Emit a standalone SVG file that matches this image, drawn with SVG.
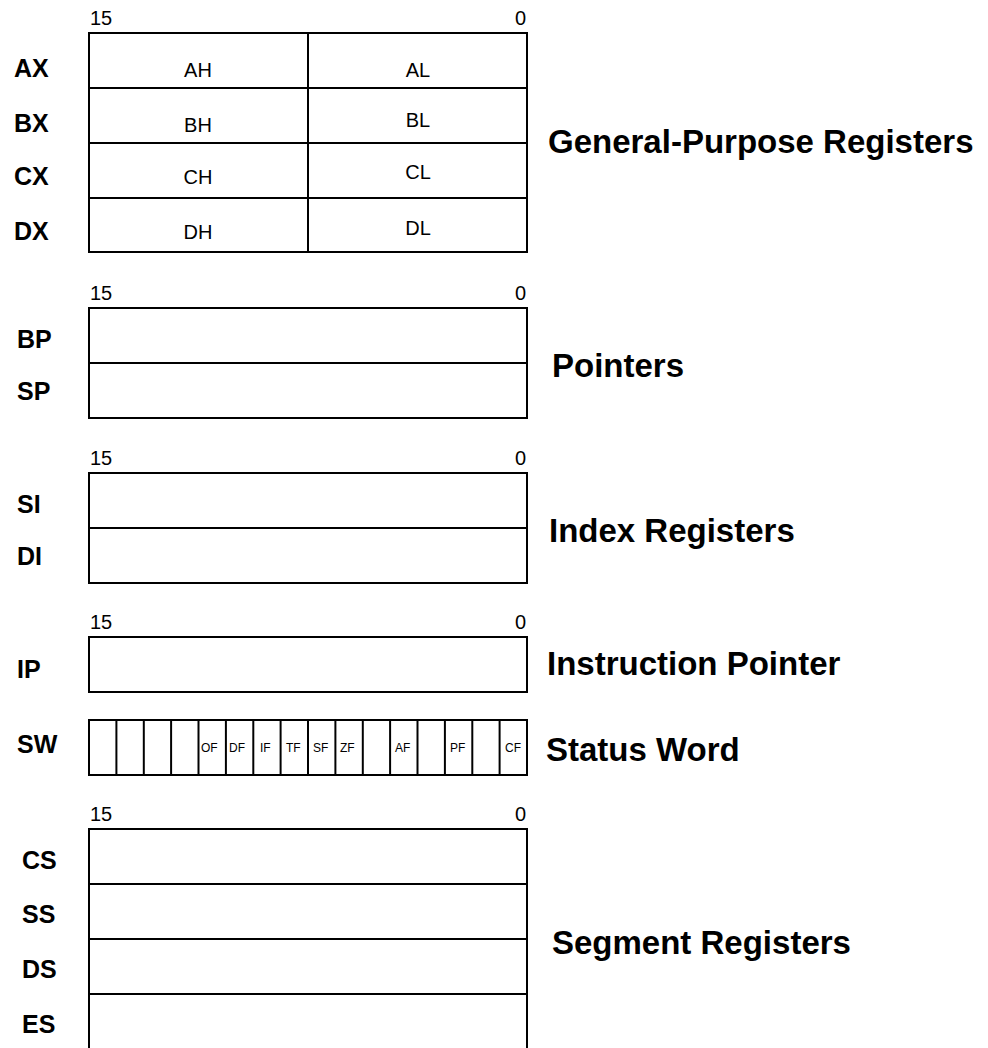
<svg xmlns="http://www.w3.org/2000/svg" width="988" height="1048" viewBox="0 0 988 1048">
<style>
.box{fill:#fff;stroke:#000;stroke-width:2}
.ln{stroke:#000;stroke-width:2;fill:none}
.reg{font-family:"Liberation Sans",Arial,sans-serif;font-weight:bold;font-size:25px;fill:#000}
.title{font-family:"Liberation Sans",Arial,sans-serif;font-weight:bold;font-size:33px;fill:#000}
.bit{font-family:"Liberation Sans",Arial,sans-serif;font-size:20px;fill:#000}
.cell{font-family:"Liberation Sans",Arial,sans-serif;font-size:20px;fill:#000;text-anchor:middle}
.flag{font-family:"Liberation Sans",Arial,sans-serif;font-size:12px;fill:#000}
</style>
<rect width="988" height="1048" fill="#fff"/>
<g id="general-purpose">
<text class="bit" x="90" y="25">15</text>
<text class="bit" x="526" y="25" text-anchor="end">0</text>
<rect class="box" x="89" y="33" width="438" height="219"/>
<line class="ln" x1="89" y1="88" x2="527" y2="88"/>
<line class="ln" x1="89" y1="143" x2="527" y2="143"/>
<line class="ln" x1="89" y1="198" x2="527" y2="198"/>
<line class="ln" x1="308" y1="33" x2="308" y2="252"/>
<text class="reg" x="14" y="77">AX</text>
<text class="reg" x="14" y="132">BX</text>
<text class="reg" x="14" y="185">CX</text>
<text class="reg" x="14" y="240">DX</text>
<text class="cell" x="198" y="77">AH</text>
<text class="cell" x="418" y="77">AL</text>
<text class="cell" x="198" y="132">BH</text>
<text class="cell" x="418" y="127">BL</text>
<text class="cell" x="198" y="184">CH</text>
<text class="cell" x="418" y="179">CL</text>
<text class="cell" x="198" y="239">DH</text>
<text class="cell" x="418" y="235">DL</text>
<text class="title" x="548" y="153">General-Purpose Registers</text>
</g>
<g id="pointers">
<text class="bit" x="90" y="300">15</text>
<text class="bit" x="526" y="300" text-anchor="end">0</text>
<rect class="box" x="89" y="308" width="438" height="110"/>
<line class="ln" x1="89" y1="363" x2="527" y2="363"/>
<text class="reg" x="17" y="348">BP</text>
<text class="reg" x="17" y="400">SP</text>
<text class="title" x="552" y="377">Pointers</text>
</g>
<g id="index">
<text class="bit" x="90" y="465">15</text>
<text class="bit" x="526" y="465" text-anchor="end">0</text>
<rect class="box" x="89" y="473" width="438" height="110"/>
<line class="ln" x1="89" y1="528" x2="527" y2="528"/>
<text class="reg" x="17" y="513">SI</text>
<text class="reg" x="17" y="565">DI</text>
<text class="title" x="549" y="542">Index Registers</text>
</g>
<g id="ip">
<text class="bit" x="90" y="629">15</text>
<text class="bit" x="526" y="629" text-anchor="end">0</text>
<rect class="box" x="89" y="637" width="438" height="55"/>
<text class="reg" x="17" y="678">IP</text>
<text class="title" x="547" y="675">Instruction Pointer</text>
</g>
<g id="sw">
<rect class="box" x="89" y="720" width="438" height="55"/>
<line class="ln" x1="116.4" y1="720" x2="116.4" y2="775"/>
<line class="ln" x1="143.8" y1="720" x2="143.8" y2="775"/>
<line class="ln" x1="171.1" y1="720" x2="171.1" y2="775"/>
<line class="ln" x1="198.5" y1="720" x2="198.5" y2="775"/>
<line class="ln" x1="225.9" y1="720" x2="225.9" y2="775"/>
<line class="ln" x1="253.3" y1="720" x2="253.3" y2="775"/>
<line class="ln" x1="280.6" y1="720" x2="280.6" y2="775"/>
<line class="ln" x1="308" y1="720" x2="308" y2="775"/>
<line class="ln" x1="335.4" y1="720" x2="335.4" y2="775"/>
<line class="ln" x1="362.8" y1="720" x2="362.8" y2="775"/>
<line class="ln" x1="390.1" y1="720" x2="390.1" y2="775"/>
<line class="ln" x1="417.5" y1="720" x2="417.5" y2="775"/>
<line class="ln" x1="444.9" y1="720" x2="444.9" y2="775"/>
<line class="ln" x1="472.3" y1="720" x2="472.3" y2="775"/>
<line class="ln" x1="499.6" y1="720" x2="499.6" y2="775"/>
<text class="flag" x="201" y="752">OF</text>
<text class="flag" x="229" y="752">DF</text>
<text class="flag" x="260" y="752">IF</text>
<text class="flag" x="286" y="752">TF</text>
<text class="flag" x="313" y="752">SF</text>
<text class="flag" x="340" y="752">ZF</text>
<text class="flag" x="395" y="752">AF</text>
<text class="flag" x="450" y="752">PF</text>
<text class="flag" x="505" y="752">CF</text>
<text class="reg" x="17" y="753">SW</text>
<text class="title" x="546" y="761">Status Word</text>
</g>
<g id="segment">
<text class="bit" x="90" y="821">15</text>
<text class="bit" x="526" y="821" text-anchor="end">0</text>
<rect class="box" x="89" y="829" width="438" height="240"/>
<line class="ln" x1="89" y1="884" x2="527" y2="884"/>
<line class="ln" x1="89" y1="939" x2="527" y2="939"/>
<line class="ln" x1="89" y1="994" x2="527" y2="994"/>
<text class="reg" x="22" y="869">CS</text>
<text class="reg" x="22" y="923">SS</text>
<text class="reg" x="22" y="978">DS</text>
<text class="reg" x="22" y="1033">ES</text>
<text class="title" x="552" y="954">Segment Registers</text>
</g>
<g id="connectors"/>
</svg>
